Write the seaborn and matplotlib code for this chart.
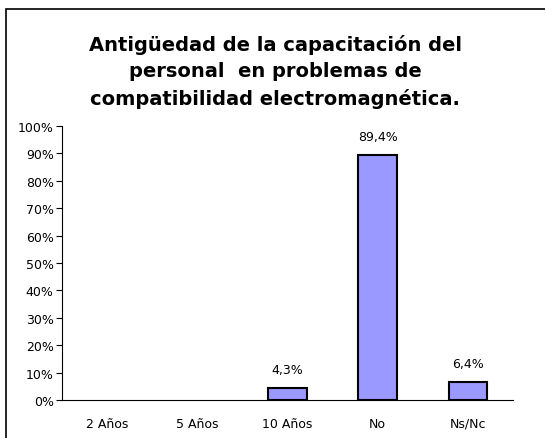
import matplotlib
matplotlib.use("Agg")
import matplotlib.pyplot as plt
import seaborn as sns
import pandas as pd
from matplotlib.patches import Rectangle

categorias = ["2 Años", "5 Años", "10 Años", "No", "Ns/Nc"]
porcentajes = [0.0, 0.0, 4.3, 89.4, 6.4]
etiquetas = ["", "", "4,3%", "89,4%", "6,4%"]
ticks_y = [0, 10, 20, 30, 40, 50, 60, 70, 80, 90, 100]

titulo = ("Antigüedad de la capacitación del\n"
          "personal  en problemas de\n"
          "compatibilidad electromagnética.")

sns.set_style("white")
plt.rcParams["font.family"] = ["DejaVu Sans"]
plt.rcParams["text.color"] = "black"
plt.rcParams["xtick.color"] = "black"
plt.rcParams["ytick.color"] = "black"

df = pd.DataFrame({"cat": categorias, "pct": porcentajes})

fig = plt.figure(figsize=(5.45, 4.39), dpi=100)
ax = fig.add_axes([0.1138, 0.0866, 0.8275, 0.6241])

sns.barplot(data=df, x="cat", y="pct", color="#9999FF", saturation=1,
            edgecolor="black", linewidth=1.5, width=0.43, ax=ax)

# barras en cero no se dibujan
for bar, v in zip(ax.patches, porcentajes):
    if v == 0:
        bar.set_linewidth(0)

ax.set_xlim(-0.5, len(categorias) - 0.5)
ax.set_ylim(0, 100)
ax.set_yticks(ticks_y)
ax.set_yticklabels([f"{t}%" for t in ticks_y], fontsize=9)
ax.set_xticks(range(len(categorias)))
ax.set_xticklabels(categorias, fontsize=9)
ax.set_xticks([i - 0.5 for i in range(len(categorias) + 1)], minor=True)
ax.tick_params(axis="x", which="major", length=0, pad=12)
ax.tick_params(axis="x", which="minor", length=4, width=0.8, color="black", direction="out")
ax.tick_params(axis="y", length=4, width=0.8, color="black", direction="out", pad=2, left=True)
ax.set_xlabel("")
ax.set_ylabel("")

for s in ["top", "right"]:
    ax.spines[s].set_visible(False)
for s in ["left", "bottom"]:
    ax.spines[s].set_color("black")
    ax.spines[s].set_linewidth(0.8)

for bar, lab in zip(ax.patches, etiquetas):
    if lab:
        ax.annotate(lab, (bar.get_x() + bar.get_width() / 2, bar.get_height()),
                    xytext=(0, 9), textcoords="offset points",
                    ha="center", va="bottom", fontsize=9)

fig.text(0.505, 1 - 72 / 439, titulo, ha="center", va="center", fontsize=14,
         fontweight="bold", linespacing=1.5)

fig.patches.append(Rectangle((6 / 545, -0.1), 1.2, 1 - 10 / 439 + 0.1,
                             transform=fig.transFigure, fill=False,
                             edgecolor="black", linewidth=1.2))

fig.savefig("out.png", dpi=100)
